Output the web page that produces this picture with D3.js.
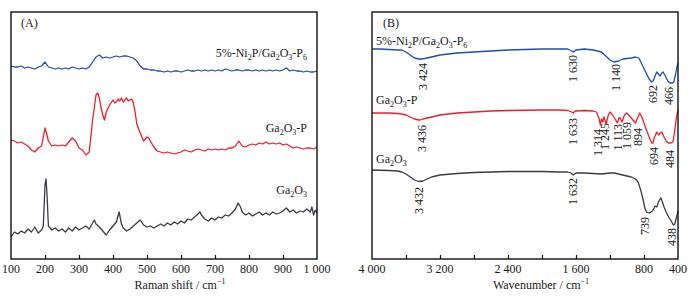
<!DOCTYPE html>
<html><head><meta charset="utf-8">
<script src="https://cdn.jsdelivr.net/npm/d3@7"></script>
<style>
body{margin:0;background:#fff}
svg{display:block}
text{font-family:"Liberation Serif","Times New Roman",serif;fill:#1a1a1a}
</style>
</head><body><svg id="c" width="692" height="296"></svg>
<script>
// ---------- Panel A : Raman ----------
const ramanTicks = [100,200,300,400,500,600,700,800,900,1000];

const ramanBlueX = [100,110,120,130,140,150,160,170,180,190,200,210,220,230,240,250,260,270,280,290,300,310,320,330,340,350,360,370,380,390,400,410,420,430,440,450,460,470,480,490,500,510,520,530,540,550,560,570,580,590,600,610,620,630,640,650,660,670,680,690,700,710,720,730,740,750,760,770,780,790,800,810,820,830,840,850,860,870,880,890,900,910,920,930,940,950,960,970,980,990,1000];
const ramanBlueY = [193,192,192,193,191,192,191,190,192,193,197,192,191,190,191,190,191,190,192,191,190,191,190,192,197,202,204,201,202,201,202,203,202,203,203,202,201,198,193,190,190,189,189,188,188,187,188,187,188,188,187,188,189,188,188,189,188,189,188,189,188,189,188,190,189,188,189,189,188,189,189,188,189,188,189,188,189,188,189,188,189,191,188,189,188,188,187,188,187,187,188];

const ramanRedX = [100,110,120,130,140,150,160,170,180,190,200,205,210,220,230,240,250,260,270,280,290,300,310,320,330,340,350,355,360,365,370,375,380,390,400,405,410,415,420,425,430,440,445,450,455,460,465,470,480,490,500,505,510,520,530,540,550,560,570,580,590,600,610,620,630,640,650,660,670,680,690,700,710,720,730,740,750,760,770,780,790,800,810,820,830,840,850,860,870,880,890,900,910,920,930,940,950,960,970,980,990,1000];
const ramanRedY = [119,118,116,117,115,113,109,107,111,113,131,125,118,113,114,113,114,113,117,121,118,111,109,104,107,139,164,166,161,151,144,139,147,154,159,156,157,160,158,161,157,161,158,159,160,156,147,135,126,118,122,121,118,112,108,107,106,107,106,105,106,107,109,108,107,109,110,109,108,110,109,110,109,110,109,111,111,113,118,113,112,114,115,114,116,115,117,115,116,115,116,114,115,113,111,112,111,110,111,111,110,112];

const ramanBlackX = [100,110,120,130,140,150,160,170,180,190,195,200,203,206,210,220,230,240,250,260,270,280,290,300,310,320,330,340,345,350,360,370,380,390,400,410,418,425,430,440,450,460,470,480,490,500,510,520,530,540,550,560,570,580,590,600,610,620,630,640,650,656,660,670,680,690,700,710,720,730,740,750,760,768,775,780,790,800,810,820,830,840,850,860,870,880,890,900,910,920,930,940,950,960,970,980,985,990,995,1000];
const ramanBlackY = [22,27,25,28,26,30,27,32,26,29,33,74,80,64,33,29,31,28,30,27,31,28,32,29,31,33,30,36,39,35,32,28,24,29,33,37,47,35,31,28,30,33,36,39,34,32,33,31,33,35,33,36,34,37,35,38,36,40,39,42,45,47,44,40,38,41,39,42,41,44,43,46,50,56,52,47,44,46,43,45,47,44,46,44,47,45,46,48,51,47,49,46,48,47,50,47,52,44,49,46];

const ramanLabels = [
  {parts:[["5%-Ni"],["2",1],["P/Ga"],["2",1],["O"],["3",1],["-P"],["6",1]], y:57},
  {parts:[["Ga"],["2",1],["O"],["3",1],["-P"]], y:131.5},
  {parts:[["Ga"],["2",1],["O"],["3",1]], y:194}
];

// ---------- Panel B : FT-IR ----------
const irTicks = [4000,3600,3200,2800,2400,2000,1600,1200,800,400];
const irTickLabels = [4000,3200,2400,1600,800,400];

const irBlueX = [4000,3900,3800,3700,3650,3600,3550,3500,3450,3424,3380,3300,3200,3100,3000,2800,2600,2400,2200,2000,1800,1700,1650,1630,1600,1500,1400,1300,1250,1200,1150,1100,1050,1000,950,900,860,820,780,740,710,692,670,650,630,610,590,575,550,520,494,466,450,430,415,400];
const irBlueY = [210,210,209.5,209,209,207,204,201,200,200,200.5,202,204,205,206,207,208,209,209.5,210,210,210,208,207,209,210,209,207,203,199,197,198,200,200.5,201,202,201,194,187,180,177,178,183,187,185,183,186,187,183,178,176,176,177,184,191,196];

const irRedX = [4000,3800,3700,3650,3600,3550,3500,3450,3436,3400,3300,3200,3000,2800,2600,2400,2000,1800,1700,1650,1633,1610,1500,1400,1360,1330,1314,1300,1285,1270,1245,1220,1200,1170,1140,1113,1095,1080,1059,1030,1004,960,930,900,880,850,820,780,740,710,694,680,650,630,610,590,570,540,510,484,460,440,420,400];
const irRedY = [146,146,145.5,145,144,142,140,139,139,140,142,144,146,147,148,148.5,149,149,148.5,147,146,148,148.5,148,147,141,134,140,137,142,135,144,147,144,140,136,141,141,137,144,146,142,139,136,140,146,141,131,122,116,116,121,127,124,126,127,123,118,116,116,117,127,141,149];

const irBlackX = [4000,3800,3700,3650,3600,3550,3500,3450,3400,3350,3300,3200,3000,2800,2600,2400,2000,1800,1700,1660,1632,1600,1500,1400,1300,1200,1150,1100,1050,1000,950,900,870,850,830,810,790,770,739,720,700,680,670,650,630,610,600,580,560,540,510,480,455,438,420,405,400];
const irBlackY = [89,88.5,88,87,85,82,79,77.5,78,80,82,84,85.5,86.5,87,87.5,87.5,87,87,86,84,86,86,85.5,85,86,86,85,84,83,82,80,77,72,66,59,51,47,46,47,48,51,53,52,57,60,61,56,51,47,42,38,34,35,41,46,48];

const irLabels = [
  {parts:[["5%-Ni"],["2",1],["P/Ga"],["2",1],["O"],["3",1],["-P"],["6",1]], y:45},
  {parts:[["Ga"],["2",1],["O"],["3",1],["-P"]], y:104},
  {parts:[["Ga"],["2",1],["O"],["3",1]], y:163}
];

// band annotations: text, wavenumber, top of text (intensity units), small horizontal nudge
const irBlueBands  = [["3 424",3424,196,2],["1 630",1630,204,0],["1 140",1140,195,1],["692",692,174,0],["466",466,172,-3]];
const irRedBands   = [["3 436",3436,134,2],["1 633",1633,141,0],["1 314",1314,130,-2],["1 245",1245,136,-1],["1 113",1113,135,1],["1 059",1059,137,5],["894",894,131,2],["694",694,112,1],["484",484,109,-1]];
const irBlackBands = [["3 432",3432,72,-1],["1 632",1632,81,0],["739",739,42,-4],["438",438,31,-3]];

// ---------- drawing ----------
const svg = d3.select("#c");
const fmt = v => d3.format(",")(v).replace(/,/g, "\u2009\u2009").replace(/\u2009\u2009/g," ");
const COL = {blue:"#1f4fa6", red:"#ec1f2a", black:"#393c44"};

const A = {l:11, r:317, t:12, b:259};
const B = {l:372, r:678, t:12, b:259};

const xA = d3.scaleLinear().domain([100,1000]).range([A.l, A.r]);
const yA = d3.scaleLinear().domain([0,247]).range([A.b, A.t]);
const xB = d3.scaleLinear().domain([4000,400]).range([B.l, B.r]);
const yB = d3.scaleLinear().domain([0,247]).range([B.b, B.t]);

function drawLine(xs, ys, xS, yS, color){
  const pts = xs.map((x,i)=>[x, ys[i]]);
  svg.append("path").datum(pts)
    .attr("fill","none").attr("stroke",color).attr("stroke-width",1.3)
    .attr("stroke-linejoin","round")
    .attr("d", d3.line().x(d=>xS(d[0])).y(d=>yS(d[1])));
}

function richText(g, parts, x, y, anchor){
  const t = g.append("text").attr("x",x).attr("y",y).attr("text-anchor",anchor).attr("font-size",12);
  let shifted = false;
  parts.forEach(p=>{
    const s = t.append("tspan").text(p[0]);
    if (p[1]) { s.attr("font-size",8).attr("dy", shifted?0:3); shifted = true; }
    else if (shifted) { s.attr("dy",-3); shifted = false; }
  });
  return t;
}

function axisBottom(xS, ticks, labels, panel, titleX, titleMain){
  const g = svg.append("g").attr("transform",`translate(0,${panel.b})`);
  g.call(d3.axisBottom(xS).tickValues(ticks).tickSize(-4).tickFormat(""))
   .call(s=>s.select(".domain").remove())
   .call(s=>s.selectAll(".tick line").attr("stroke","#111").attr("stroke-width",1.2));
  labels.forEach(v=>{
    svg.append("text").attr("x",xS(v)).attr("y",273).attr("text-anchor","middle")
      .attr("font-size",12).text(fmt(v));
  });
  const t = svg.append("text").attr("x",titleX).attr("y",289).attr("text-anchor","middle").attr("font-size",12);
  t.append("tspan").text(titleMain);
  t.append("tspan").attr("font-size",8).attr("dy",-5).text("\u2212" + "1");
}

// Panel A
drawLine(ramanBlackX, ramanBlackY, xA, yA, COL.black);
drawLine(ramanRedX, ramanRedY, xA, yA, COL.red);
drawLine(ramanBlueX, ramanBlueY, xA, yA, COL.blue);
svg.append("rect").attr("x",A.l).attr("y",A.t).attr("width",A.r-A.l).attr("height",A.b-A.t)
  .attr("fill","none").attr("stroke","#111").attr("stroke-width",1.4);
axisBottom(xA, ramanTicks.slice(1,-1), ramanTicks, A, 180, "Raman shift / cm");
svg.append("text").attr("x",21).attr("y",27).attr("font-size",12).text("(A)");
ramanLabels.forEach(l=>richText(svg, l.parts, 307, l.y, "end"));

// Panel B
drawLine(irBlackX, irBlackY, xB, yB, COL.black);
drawLine(irRedX, irRedY, xB, yB, COL.red);
drawLine(irBlueX, irBlueY, xB, yB, COL.blue);
svg.append("rect").attr("x",B.l).attr("y",B.t).attr("width",B.r-B.l).attr("height",B.b-B.t)
  .attr("fill","none").attr("stroke","#111").attr("stroke-width",1.4);
axisBottom(xB, irTicks.slice(1,-1), irTickLabels, B, 541, "Wavenumber / cm");
svg.append("text").attr("x",383).attr("y",27).attr("font-size",12).text("(B)");
irLabels.forEach(l=>richText(svg, l.parts, 376, l.y, "start"));

[irBlueBands, irRedBands, irBlackBands].forEach(arr=>{
  arr.forEach(([t,w,top,dx])=>{
    const x = xB(w)+dx, y = yB(top);
    svg.append("text").attr("transform",`translate(${x},${y}) rotate(-90)`)
      .attr("text-anchor","end").attr("dominant-baseline","central")
      .attr("font-size",12).text(t);
  });
});
</script>
</body></html>
